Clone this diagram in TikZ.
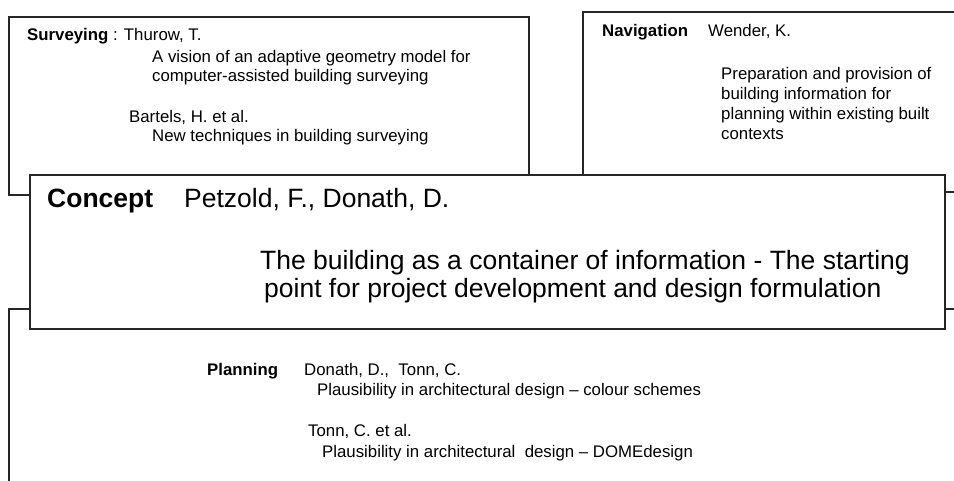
\documentclass[tikz,border=0pt]{standalone}
\usepackage{fontspec}
\setmainfont{Liberation Sans}
\begin{document}
\begin{tikzpicture}[x=1pt,y=-1pt,
  frame/.style={line width=1.1pt,draw=black!85},
  txt/.style={anchor=base west,inner sep=0pt,font=\fontsize{16.8}{18.5}\selectfont},
  big/.style={anchor=base west,inner sep=0pt,font=\fontsize{26.5}{29}\selectfont}]
\useasboundingbox (0,0) rectangle (954,481);
\clip (0,0) rectangle (954,481);

% topic frames lying behind the central concept panel
\draw[frame] (9,17) rectangle (529,195);
\draw[frame] (583,12) rectangle (980,192);
\draw[frame] (9,309) rectangle (980,520);

% central concept panel
\draw[frame,fill=white] (30,175) rectangle (945,329);

% Surveying
\node[txt] (sv) at (27,41) {\textbf{Surveying} : Thurow, T.};
\node[txt] (sv1) at (152,63) {A vision of an adaptive geometry model for};
\node[txt] (sv2) at (152,81.5) {computer-assisted building surveying};
\node[txt] (sv3) at (129,123) {Bartels, H. et al.};
\node[txt] (sv4) at (152,142) {New techniques in building surveying};

% Navigation
\node[txt] (nv) at (602,37) {\textbf{Navigation}};
\node[txt] (nva) at (708,37) {Wender, K.};
\node[txt] (nv1) at (721,79.5) {Preparation and provision of};
\node[txt] (nv2) at (721,99.5) {building information for};
\node[txt] (nv3) at (721,119.5) {planning within existing built};
\node[txt] (nv4) at (721,139.5) {contexts};

% Concept
\node[big] (cp) at (47,208) {\textbf{Concept}};
\node[big] (cpa) at (184,208) {Petzold, F., Donath, D.};
\node[big] (cp1) at (260,270) {The building as a container of information - The starting};
\node[big] (cp2) at (264,298) {point for project development and design formulation};

% Planning
\node[txt] (pl) at (207,375) {\textbf{Planning}};
\node[txt] (pla) at (304,375) {Donath, D.,\ \ Tonn, C.};
\node[txt] (pl1) at (317,395) {Plausibility in architectural design -- colour schemes};
\node[txt] (pl2) at (308,436) {Tonn, C. et al.};
\node[txt] (pl3) at (322,457) {Plausibility in architectural\ \ design -- DOMEdesign};
\end{tikzpicture}
\end{document}
